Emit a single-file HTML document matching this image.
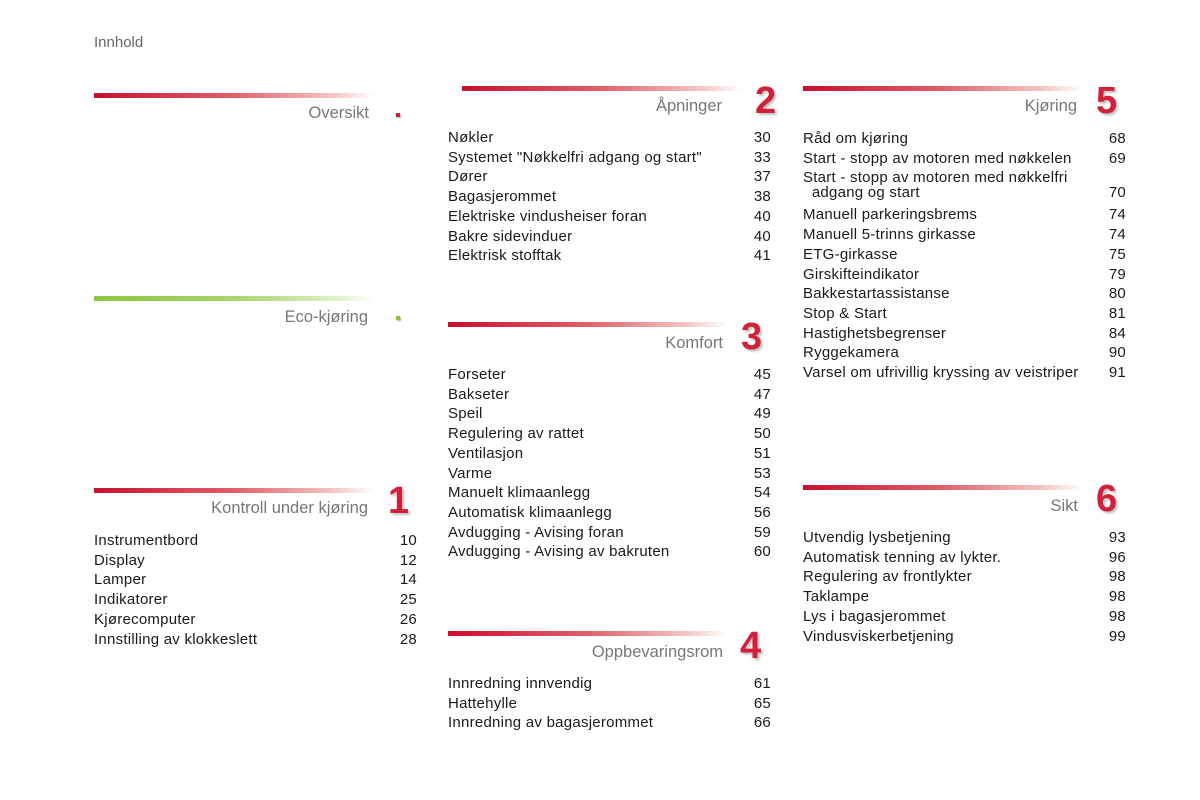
<!DOCTYPE html>
<html><head><meta charset="utf-8"><style>
body{margin:0;width:1200px;height:800px;background:#fff;position:relative;overflow:hidden;font-family:"Liberation Sans",sans-serif;color:#1a1a1a}
.a{position:absolute}
.bar{position:absolute;height:5px;background:linear-gradient(to right,#c8102e,#e0606a 50%,#f3c5c2 85%,rgba(255,255,255,0))}
.g{background:linear-gradient(to right,#8cc63f,#a9d46a 50%,#dcefc4 85%,rgba(255,255,255,0))}
.t{position:absolute;font-size:16.5px;color:#777;text-align:right;line-height:18px}
.n{position:absolute;font-size:38px;font-weight:bold;color:#d1203a;line-height:38px;text-shadow:2px 2px 2px rgba(0,0,0,.25)}
.l{position:absolute;font-size:15px;letter-spacing:0.25px;line-height:19.7px;margin:0;padding:0;list-style:none}
.l li{display:flex;justify-content:space-between;white-space:nowrap}
.sq{position:absolute;width:4px;height:4px}
</style></head><body>
<div class="a" style="left:94px;top:34px;font-size:15px;color:#666">Innhold</div>

<div class="bar" style="left:94px;top:93px;width:280px"></div>
<div class="t" style="right:831px;top:104px">Oversikt</div>
<div class="sq" style="left:396px;top:113px;background:#d1203a;box-shadow:1px 1px 1px rgba(0,0,0,.3)"></div>

<div class="bar g" style="left:94px;top:296px;width:280px"></div>
<div class="t" style="right:832px;top:308px">Eco-kjøring</div>
<div class="sq" style="left:396px;top:316px;background:#8cc63f;box-shadow:1px 1px 1px rgba(0,0,0,.3)"></div>

<div class="bar" style="left:94px;top:488px;width:280px"></div>
<div class="t" style="right:832px;top:499px">Kontroll under kjøring</div>
<div class="n" style="left:388px;top:482px">1</div>
<ul class="l" style="left:94px;top:531px;width:323px">
<li><span>Instrumentbord</span><span>10</span></li>
<li><span>Display</span><span>12</span></li>
<li><span>Lamper</span><span>14</span></li>
<li><span>Indikatorer</span><span>25</span></li>
<li><span>Kjørecomputer</span><span>26</span></li>
<li><span>Innstilling av klokkeslett</span><span>28</span></li>
</ul>

<div class="bar" style="left:462px;top:86px;width:280px"></div>
<div class="t" style="right:478px;top:97px">Åpninger</div>
<div class="n" style="left:755px;top:82px">2</div>
<ul class="l" style="left:448px;top:128px;width:323px">
<li><span>Nøkler</span><span>30</span></li>
<li><span>Systemet "Nøkkelfri adgang og start"</span><span>33</span></li>
<li><span>Dører</span><span>37</span></li>
<li><span>Bagasjerommet</span><span>38</span></li>
<li><span>Elektriske vindusheiser foran</span><span>40</span></li>
<li><span>Bakre sidevinduer</span><span>40</span></li>
<li><span>Elektrisk stofftak</span><span>41</span></li>
</ul>

<div class="bar" style="left:448px;top:322px;width:280px"></div>
<div class="t" style="right:477px;top:334px">Komfort</div>
<div class="n" style="left:741px;top:318px">3</div>
<ul class="l" style="left:448px;top:365px;width:323px">
<li><span>Forseter</span><span>45</span></li>
<li><span>Bakseter</span><span>47</span></li>
<li><span>Speil</span><span>49</span></li>
<li><span>Regulering av rattet</span><span>50</span></li>
<li><span>Ventilasjon</span><span>51</span></li>
<li><span>Varme</span><span>53</span></li>
<li><span>Manuelt klimaanlegg</span><span>54</span></li>
<li><span>Automatisk klimaanlegg</span><span>56</span></li>
<li><span>Avdugging - Avising foran</span><span>59</span></li>
<li><span>Avdugging - Avising av bakruten</span><span>60</span></li>
</ul>

<div class="bar" style="left:448px;top:631px;width:280px"></div>
<div class="t" style="right:477px;top:643px">Oppbevaringsrom</div>
<div class="n" style="left:740px;top:627px">4</div>
<ul class="l" style="left:448px;top:674px;width:323px">
<li><span>Innredning innvendig</span><span>61</span></li>
<li><span>Hattehylle</span><span>65</span></li>
<li><span>Innredning av bagasjerommet</span><span>66</span></li>
</ul>

<div class="bar" style="left:803px;top:86px;width:280px"></div>
<div class="t" style="right:123px;top:97px">Kjøring</div>
<div class="n" style="left:1096px;top:82px">5</div>
<ul class="l" style="left:803px;top:129px;width:323px">
<li><span>Råd om kjøring</span><span>68</span></li>
<li><span>Start - stopp av motoren med nøkkelen</span><span>69</span></li>
<li style="line-height:15px;padding-top:2px;height:35px;display:block;position:relative"><span>Start - stopp av motoren med nøkkelfri<br>&nbsp;&nbsp;adgang og start</span><span style="position:absolute;right:0;top:17px">70</span></li>
<li><span>Manuell parkeringsbrems</span><span>74</span></li>
<li><span>Manuell 5-trinns girkasse</span><span>74</span></li>
<li><span>ETG-girkasse</span><span>75</span></li>
<li><span>Girskifteindikator</span><span>79</span></li>
<li><span>Bakkestartassistanse</span><span>80</span></li>
<li><span>Stop &amp; Start</span><span>81</span></li>
<li><span>Hastighetsbegrenser</span><span>84</span></li>
<li><span>Ryggekamera</span><span>90</span></li>
<li><span>Varsel om ufrivillig kryssing av veistriper</span><span>91</span></li>
</ul>

<div class="bar" style="left:803px;top:485px;width:280px"></div>
<div class="t" style="right:122px;top:497px">Sikt</div>
<div class="n" style="left:1096px;top:480px">6</div>
<ul class="l" style="left:803px;top:528px;width:323px">
<li><span>Utvendig lysbetjening</span><span>93</span></li>
<li><span>Automatisk tenning av lykter.</span><span>96</span></li>
<li><span>Regulering av frontlykter</span><span>98</span></li>
<li><span>Taklampe</span><span>98</span></li>
<li><span>Lys i bagasjerommet</span><span>98</span></li>
<li><span>Vindusviskerbetjening</span><span>99</span></li>
</ul>
</body></html>
